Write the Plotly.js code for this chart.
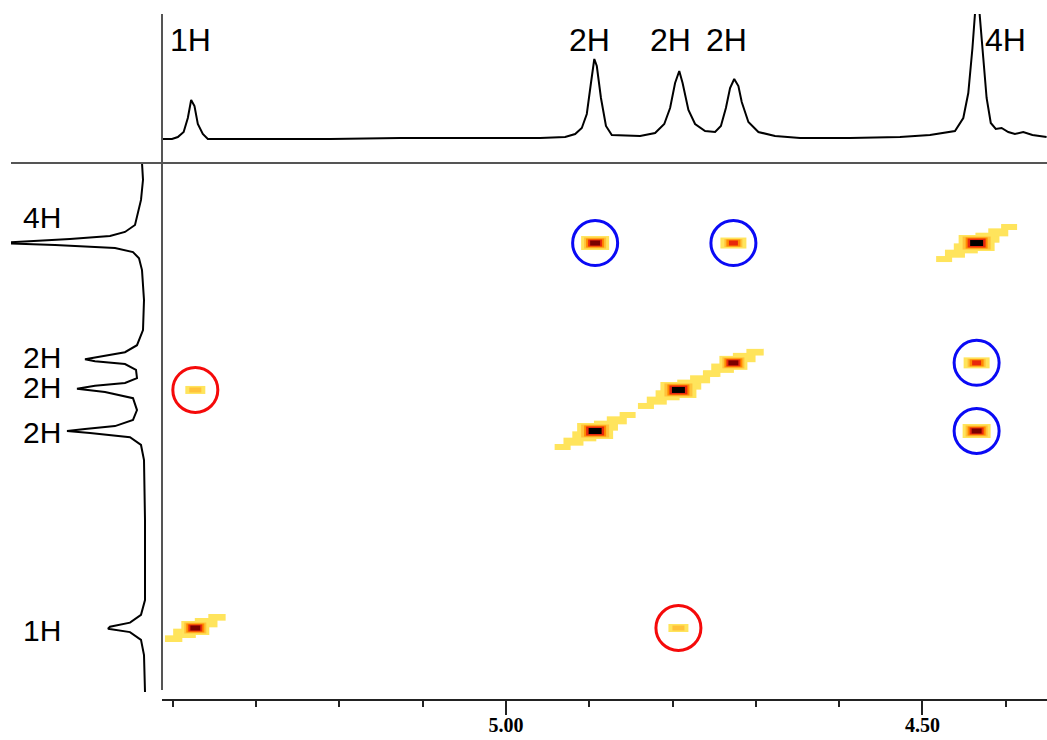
<!DOCTYPE html>
<html><head><meta charset="utf-8">
<script src="https://cdn.plot.ly/plotly-3.0.1.min.js"></script>
<style>html,body{margin:0;padding:0;background:#fff}#chart{width:1047px;height:740px}</style>
</head><body><div id="chart"></div>
<script>
// ---- 1D projection along F2 (top trace): chemical shift (ppm) and intensity
const topPpm = [5.413,5.401,5.394,5.387,5.382,5.378,5.374,5.370,5.364,5.358,5.295,5.211,5.127,5.043,4.959,4.929,4.917,4.909,4.903,4.898,4.894,4.891,4.886,4.880,4.873,4.839,4.821,4.810,4.803,4.797,4.792,4.788,4.781,4.773,4.761,4.749,4.742,4.736,4.731,4.726,4.721,4.717,4.709,4.697,4.677,4.647,4.587,4.527,4.491,4.461,4.451,4.445,4.440,4.436,4.432,4.427,4.423,4.418,4.412,4.405,4.397,4.389,4.379,4.368,4.351];
const topInt = [-1,-1,1,6,20,38,32,14,4,-1,-1,-1,0,0,0,1,4,10,24,55,79,72,40,12,3,2,5,14,30,55,67,55,28,14,7,6,12,30,50,59,52,36,16,6,2,0,0,1,3,7,20,45,90,135,130,80,40,15,9,10,6,4,6,3,1];
// ---- 1D projection along F1 (left trace)
const leftPpm = [4.240,4.281,4.330,4.367,4.391,4.408,4.418,4.425,4.430,4.435,4.440,4.447,4.457,4.472,4.501,4.574,4.647,4.684,4.701,4.711,4.718,4.723,4.730,4.744,4.764,4.776,4.783,4.790,4.798,4.813,4.842,4.866,4.881,4.888,4.893,4.898,4.908,4.927,4.964,5.110,5.305,5.341,5.360,5.370,5.375,5.383,5.402,5.439,5.529];
const leftInt = [3,2,4,8,10,20,35,75,120,150,90,30,12,6,3,1,2,8,20,45,60,50,20,9,8,20,50,68,40,12,8,12,30,60,78,55,15,4,1,0,0,4,15,35,37,15,4,1,0];
// ---- 2D peaks (F2 ppm, F1 ppm, relative intensity level 1..4)
const peakF2 = [5.373, 4.893, 4.793, 4.727, 4.435, 4.893, 4.727, 4.435, 4.435, 5.373, 4.793];
const peakF1 = [5.373, 4.893, 4.793, 4.727, 4.435, 4.435, 4.435, 4.727, 4.893, 4.793, 5.373];
const peakLevel = [3, 4, 4, 3, 4, 3, 2, 2, 3, 1, 1];
const peakMark = ['', '', '', '', '', 'blue', 'blue', 'blue', 'blue', 'red', 'red'];
// ---- labels
const topLabels = ['1H','2H','2H','2H','4H'];
const topLabelPpm = [5.379, 4.900, 4.803, 4.735, 4.400];
const leftLabels = ['4H','2H','2H','2H','1H'];
const leftLabelPpm = [4.374, 4.713, 4.786, 4.896, 5.378];

const W = 1047, H = 740;
const fx = p => p / W, fy = p => 1 - p / H;
const xRange = [5.413, 4.3505];
const yRange = [5.546, 4.240];
const pxPerPpmX = (fx(1047) - fx(162)) * W / (xRange[0] - xRange[1]);

// cross-peak rendering layers (colour, [length px, thickness px] per level 1..4)
const yellow = '#FFE45C';
const layers = [
  {c: yellow,    s: [[20,8],[26,11],[28,14],[36,16]]},
  {c: '#FFC23A', s: [[12,5],[18,8],[22,11],[28,13]]},
  {c: '#FF8A00', s: [[0,0],[14,7],[18,9],[22,11]]},
  {c: '#E8280C', s: [[0,0],[9,5],[14,7],[18,9]]},
  {c: '#7A0000', s: [[0,0],[0,0],[10,5],[0,0]]},
  {c: '#000000', s: [[0,0],[0,0],[0,0],[13,6]]}
];
const blobTraces = [];
function bar(x, y, len, w, c) {
  if (len <= 0) return;
  const h = len / 2 / pxPerPpmX;
  blobTraces.push({type: 'scatter', mode: 'lines', x: [x + h, x - h], y: [y, y], xaxis: 'x', yaxis: 'y',
    line: {color: c, width: w}, hoverinfo: 'skip'});
}
// diagonal peaks are smeared along the diagonal
const step = 0.013;
peakF2.forEach((p2, i) => {
  const p1 = peakF1[i], n = peakLevel[i] - 1;
  if (p1 === p2) {
    for (let k = -n; k <= n; k++) {
      if (k === 0) continue;
      const f = 1 - Math.abs(k) / (n + 1);
      bar(p2 - k * step, p1 - k * step, 12 + 16 * f, 4 + 8 * f, yellow);
    }
  }
});
layers.forEach(ly => {
  peakF2.forEach((p2, i) => {
    const sz = ly.s[peakLevel[i] - 1];
    bar(p2, peakF1[i], sz[0], sz[1], ly.c);
  });
});

const circ = peakMark.map((m, i) => i).filter(i => peakMark[i] !== '');
const circleColor = {blue: '#0A0AF5', red: '#F50A0A'};

const traces = [
  {type: 'scatter', mode: 'lines', x: topPpm, y: topInt, xaxis: 'x2', yaxis: 'y2',
   line: {color: '#000', width: 2}, hoverinfo: 'skip'},
  {type: 'scatter', mode: 'lines', x: leftInt, y: leftPpm, xaxis: 'x3', yaxis: 'y3',
   line: {color: '#000', width: 2}, hoverinfo: 'skip'}
].concat(blobTraces).concat([
  {type: 'scatter', mode: 'markers', x: circ.map(i => peakF2[i]), y: circ.map(i => peakF1[i]), xaxis: 'x', yaxis: 'y',
   marker: {symbol: 'circle-open', size: 45, color: circ.map(i => circleColor[peakMark[i]]), line: {width: 3}}, hoverinfo: 'skip'}
]);

const annotations = [];
topLabels.forEach((t, i) => annotations.push({text: t, xref: 'x2', x: topLabelPpm[i], yref: 'paper', y: fy(40),
  showarrow: false, xanchor: 'center', yanchor: 'middle', font: {family: 'Liberation Sans, Arial', size: 32, color: '#000'}}));
leftLabels.forEach((t, i) => annotations.push({text: t, xref: 'paper', x: fx(42), yref: 'y3', y: leftLabelPpm[i],
  showarrow: false, xanchor: 'center', yanchor: 'middle', font: {family: 'Liberation Sans, Arial', size: 30, color: '#000'}}));

const layout = {
  width: W, height: H, margin: {l: 0, r: 0, t: 0, b: 0},
  paper_bgcolor: '#ffffff', plot_bgcolor: 'rgba(0,0,0,0)', showlegend: false,
  xaxis: {domain: [fx(162), 1], range: xRange, anchor: 'y', showline: true, linecolor: '#222', linewidth: 2,
    ticks: 'outside', ticklen: 14, tickwidth: 2, tickcolor: '#222', tick0: 0, dtick: 0.5, tickformat: '.2f',
    ticklabelstandoff: -7,
    tickfont: {family: 'Liberation Serif, Times New Roman', size: 20, color: '#000', weight: 'bold'},
    minor: {dtick: 0.1, tick0: 0, ticks: 'outside', ticklen: 6, tickwidth: 2, tickcolor: '#222', showgrid: false},
    showgrid: false, zeroline: false},
  yaxis: {domain: [fy(699), fy(163)], range: yRange, anchor: 'x', visible: false},
  xaxis2: {domain: [fx(162), 1], range: xRange, anchor: 'y2', visible: false},
  yaxis2: {domain: [fy(163), fy(14)], range: [-25, 124], anchor: 'x2', visible: false},
  xaxis3: {domain: [fx(11), fx(162)], range: [134, -17], anchor: 'y3', visible: false},
  yaxis3: {domain: [fy(699), fy(163)], range: yRange, anchor: 'x3', visible: false},
  shapes: [
    {type: 'line', xref: 'paper', yref: 'paper', x0: fx(162), x1: fx(162), y0: fy(690), y1: fy(14), line: {color: '#555', width: 2}},
    {type: 'line', xref: 'paper', yref: 'paper', x0: fx(11), x1: 1, y0: fy(163), y1: fy(163), line: {color: '#555', width: 2}}
  ],
  annotations: annotations
};
Plotly.newPlot('chart', traces, layout, {staticPlot: true, displayModeBar: false});
</script></body></html>
